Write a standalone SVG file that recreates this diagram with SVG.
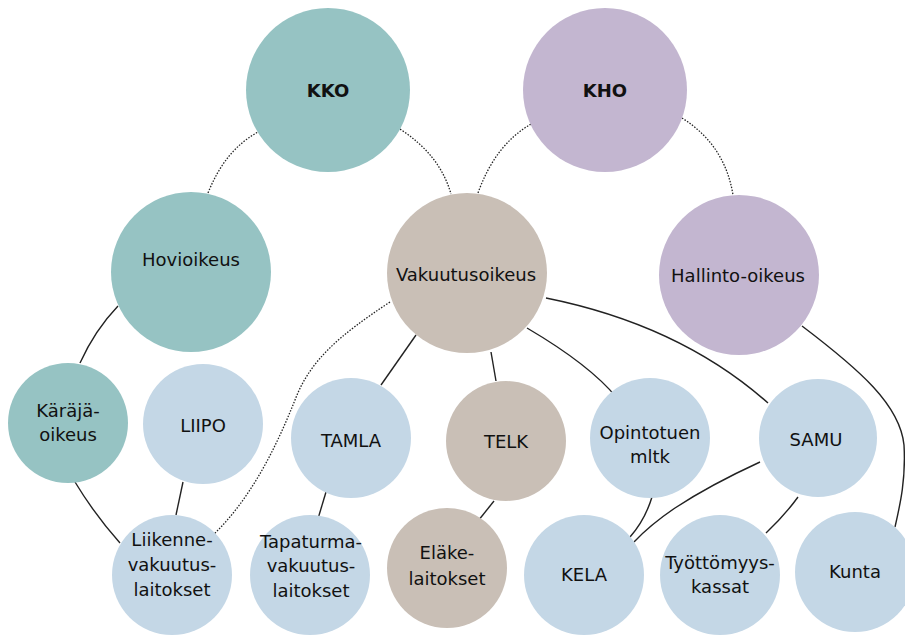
<svg xmlns="http://www.w3.org/2000/svg" width="905" height="640" viewBox="0 0 905 640">
<style>
.teal{fill:#96c3c3}.pur{fill:#c3b6d0}.bei{fill:#c9bfb6}.blu{fill:#c4d7e6}
text{font-family:"DejaVu Sans","Verdana",sans-serif;font-size:18px;fill:#111;text-anchor:middle}
.b{font-weight:bold}
.c path{fill:none;stroke:#222;stroke-width:1.4}
.c .d{stroke-dasharray:1.5 1.5;stroke-width:1.3}
</style>
<rect width="905" height="640" fill="#fff"/>
<g class="c" id="connectors">
<path class="d" d="M208,193 Q225,150 258,132"/>
<path class="d" d="M400,129 Q440,155 451,194"/>
<path class="d" d="M478,193 Q495,145 531,124"/>
<path class="d" d="M682,118 Q725,145 733,195"/>
<path d="M118,306 Q95,330 80,363"/>
<path d="M75,482 Q95,515 120,543"/>
<path d="M183,482 L176,515"/>
<path class="d" d="M390,302 C340,335 310,360 295,400 C275,450 250,500 212,536"/>
<path d="M416,335 L381,385"/>
<path d="M326,492 L317,522"/>
<path d="M491,352 L496,381"/>
<path d="M494,501 L478,521"/>
<path d="M527,328 Q590,365 617,398"/>
<path d="M546,298 Q680,325 768,403"/>
<path d="M652,497 Q645,520 630,537"/>
<path d="M760,462 Q710,485 675,508 Q650,525 634,542"/>
<path d="M798,497 Q785,515 766,533"/>
<path d="M802,326 C860,370 900,405 904,445 C906,480 900,505 895,527"/>
</g>
<g id="kko"><circle class="teal" cx="328" cy="90" r="82"/><text class="b" x="328" y="97">KKO</text></g>
<g id="kho"><circle class="pur" cx="605" cy="90" r="82"/><text class="b" x="605" y="97">KHO</text></g>
<g id="hovioikeus"><circle class="teal" cx="191" cy="272" r="80"/><text x="191" y="266">Hovioikeus</text></g>
<g id="vakuutusoikeus"><circle class="bei" cx="467" cy="273" r="80"/><text x="466" y="281">Vakuutusoikeus</text></g>
<g id="hallinto-oikeus"><circle class="pur" cx="739" cy="275" r="80"/><text x="738" y="282">Hallinto-oikeus</text></g>
<g id="karajaoikeus"><circle class="teal" cx="68" cy="423" r="60"/><text x="68" y="417">Käräjä-</text><text x="68" y="441">oikeus</text></g>
<g id="liipo"><circle class="blu" cx="203" cy="424" r="60"/><text x="203" y="432">LIIPO</text></g>
<g id="tamla"><circle class="blu" cx="351" cy="438" r="60"/><text x="351" y="447">TAMLA</text></g>
<g id="telk"><circle class="bei" cx="506" cy="441" r="60"/><text x="506" y="448">TELK</text></g>
<g id="opintotuen"><circle class="blu" cx="650" cy="438" r="60"/><text x="650" y="439">Opintotuen</text><text x="650" y="463">mltk</text></g>
<g id="samu"><circle class="blu" cx="818" cy="438" r="59"/><text x="816" y="446">SAMU</text></g>
<g id="liikenne"><circle class="blu" cx="172" cy="575" r="60"/><text x="172" y="546">Liikenne-</text><text x="172" y="571">vakuutus-</text><text x="172" y="596">laitokset</text></g>
<g id="tapaturma"><circle class="blu" cx="310" cy="575" r="60"/><text x="311" y="548">Tapaturma-</text><text x="311" y="572">vakuutus-</text><text x="311" y="597">laitokset</text></g>
<g id="elakelaitokset"><circle class="bei" cx="447" cy="568" r="60"/><text x="447" y="559">Eläke-</text><text x="447" y="585">laitokset</text></g>
<g id="kela"><circle class="blu" cx="584" cy="575" r="60"/><text x="584" y="581">KELA</text></g>
<g id="tyottomyyskassat"><circle class="blu" cx="720" cy="575" r="60"/><text x="720" y="569">Työttömyys-</text><text x="720" y="593">kassat</text></g>
<g id="kunta"><circle class="blu" cx="855" cy="572" r="60"/><text x="855" y="578">Kunta</text></g>
</svg>
